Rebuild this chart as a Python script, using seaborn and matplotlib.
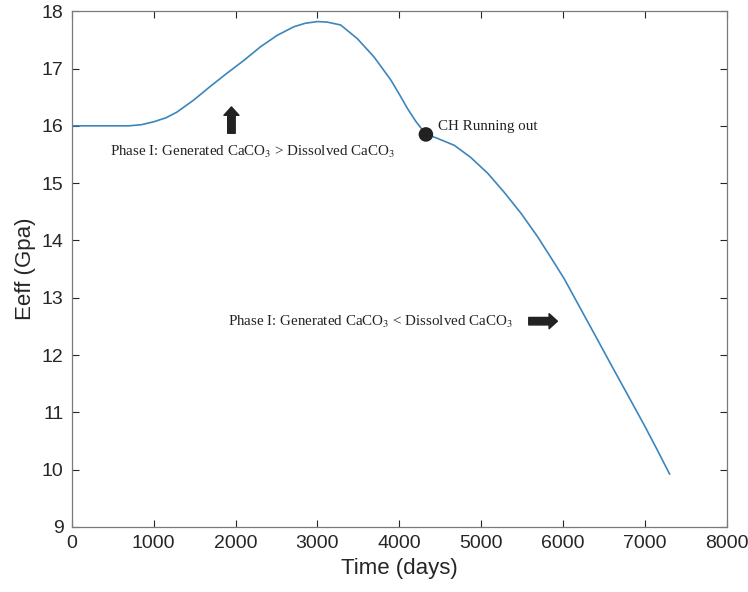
import matplotlib
matplotlib.use("Agg")
import matplotlib.pyplot as plt
import seaborn as sns
import pandas as pd

# Data
time_days = [0, 400, 700, 850, 1000, 1150, 1285, 1489, 1693, 1897, 2100, 2305, 2509,
             2713, 2850, 3000, 3121, 3284, 3488, 3692, 3896, 4000, 4100, 4200, 4324,
             4450, 4671, 4870, 5080, 5280, 5487, 5690, 5895, 6017, 6181,
             6384, 6589, 6793, 6996, 7150, 7300]
eeff = [16.0, 16.0, 16.0, 16.02, 16.07, 16.14, 16.24, 16.45, 16.69, 16.92, 17.14, 17.38, 17.58,
        17.73, 17.79, 17.82, 17.81, 17.76, 17.52, 17.20, 16.80, 16.55, 16.30, 16.08, 15.85,
        15.79, 15.66, 15.45, 15.17, 14.84, 14.47, 14.06, 13.60, 13.32, 12.89,
        12.36, 11.82, 11.29, 10.76, 10.34, 9.92]
ch_x = [4324]
ch_y = [15.85]

x_ticks = [0, 1000, 2000, 3000, 4000, 5000, 6000, 7000, 8000]
y_ticks = [9, 10, 11, 12, 13, 14, 15, 16, 17, 18]

sns.set_theme(style="white")
plt.rcParams['font.family'] = ['Liberation Sans', 'DejaVu Sans']
plt.rcParams['mathtext.fontset'] = 'stix'

df = pd.DataFrame({"Time (days)": time_days, "Eeff (Gpa)": eeff})
dot = pd.DataFrame({"x": ch_x, "y": ch_y})

fig = plt.figure(figsize=(7.48, 5.92), dpi=100)
ax = fig.add_axes([0.0959, 0.110, 0.876, 0.871])

sns.lineplot(data=df, x="Time (days)", y="Eeff (Gpa)", ax=ax, color="#3a86bd", linewidth=1.2)
sns.scatterplot(data=dot, x="x", y="y", ax=ax, color="#222222", s=110, edgecolor="none", zorder=5)

ax.set_xlim(0, 8000)
ax.set_ylim(9, 18)
ax.set_xticks(x_ticks)
ax.set_yticks(y_ticks)
ax.tick_params(direction='in', length=5, width=0.8, colors='#262626', labelsize=14,
               top=True, right=True, bottom=True, left=True, pad=6)
for s in ax.spines.values():
    s.set_color('#7a7a7a')
    s.set_linewidth(0.9)
ax.set_xlabel("Time (days)", fontsize=16, color='#262626', labelpad=4)
ax.set_ylabel("Eeff (Gpa)", fontsize=16, color='#262626', labelpad=4)

serif = ['Liberation Serif', 'DejaVu Serif']
ax.text(2200, 15.54, "Phase I: Generated CaCO$_3$ > Dissolved CaCO$_3$", ha='center', va='center',
        fontsize=10.8, family=serif, color='#222222')
ax.text(3640, 12.57, "Phase I: Generated CaCO$_3$ < Dissolved CaCO$_3$", ha='center', va='center',
        fontsize=10.8, family=serif, color='#222222')
ax.text(4470, 15.98, "CH Running out", ha='left', va='center',
        fontsize=10.8, family=serif, color='#222222')

ax.annotate("", xy=(1950, 16.33), xytext=(1950, 15.87),
            arrowprops=dict(arrowstyle="simple,head_length=0.5,head_width=0.9,tail_width=0.45",
                            color="#222222", shrinkA=0, shrinkB=0))
ax.annotate("", xy=(5930, 12.59), xytext=(5580, 12.59),
            arrowprops=dict(arrowstyle="simple,head_length=0.5,head_width=0.9,tail_width=0.45",
                            color="#222222", shrinkA=0, shrinkB=0))

fig.savefig("out.png", dpi=100)
